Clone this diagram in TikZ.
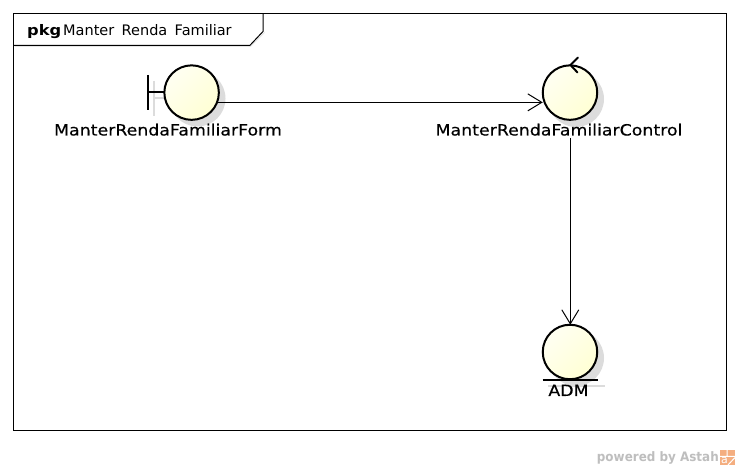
\documentclass[tikz,border=0pt]{standalone}
\usepackage{fontspec}
\setmainfont{DejaVu Sans}
\newfontfamily\labelfont[FakeStretch=1.12,FakeBold=0.4]{DejaVu Sans}
\newfontfamily\titlefont[WordSpace=1.6]{DejaVu Sans}
\newfontfamily\pkgfont[FakeStretch=1.12]{DejaVu Sans Bold}
\newfontfamily\wmfont[FakeStretch=0.92]{DejaVu Sans Bold}
\usetikzlibrary{arrows.meta}
\definecolor{shadowc}{HTML}{DCDCDC}
\definecolor{tabshadow}{HTML}{E6E6E6}
\definecolor{fillc}{HTML}{FFFFD4}
\definecolor{fillb}{HTML}{FFFFF2}
\definecolor{wm}{HTML}{BEBEBE}
\definecolor{logoc}{HTML}{F4AE80}
\tikzset{
  x=1pt,y=-1pt,
  robust/.style={circle,draw=black,line width=2pt,minimum size=54.5pt,inner sep=0pt,outer sep=0pt,left color=fillb,right color=fillc,shading angle=45},
  shadowdisc/.style={circle,fill=shadowc,minimum size=56pt,inner sep=0pt},
  label text/.style={font=\fontsize{15.5}{17}\labelfont,text=black,inner sep=0pt,anchor=base},
  thick bar/.style={line width=2pt,draw=black},
  shadow bar/.style={line width=2pt,draw=shadowc},
  flow/.style={draw=black,line width=1pt,-{Straight Barb[length=14pt,width=17pt,line width=1pt]}},
  frameline/.style={draw=black,line width=1pt},
}
\begin{document}
\begin{tikzpicture}
\useasboundingbox (0,0) rectangle (740,470);
\fill[white] (0,0) rectangle (740,470);
% frame
\draw[frameline] (13.5,13.5) rectangle (726,430.5);
\draw[tabshadow,line width=1pt] (14.5,46.5) -- (250.5,46.5) -- (264.5,32.5);
\draw[frameline] (13.5,45.3) -- (250,45.3) -- (263,31.5) -- (263,13.5);
\node[anchor=base west,inner sep=0pt,font=\fontsize{14.5}{16}\pkgfont] (pkg) at (27,36) {pkg};
\node[anchor=base west,inner sep=0pt,font=\fontsize{14.5}{16}\titlefont] (title) at (63,36) {Manter Renda Familiar};
% shadows
\node[shadowdisc] (s1) at (197.5,98.5) {};
\node[shadowdisc] (s2) at (576,99) {};
\node[shadowdisc] (s3) at (576,358) {};
\draw[shadow bar] (154,81) -- (154,116);
\draw[shadow bar] (154,98.5) -- (170,98.5);
\draw[shadow bar] (548,386) -- (605,386);
% boundary
\draw[thick bar] (148,75) -- (148,110);
\draw[thick bar] (148,92.5) -- (165,92.5);
\node[robust] (form) at (191.6,92.6) {};
\node[label text] (formlabel) at (168,135.5) {ManterRendaFamiliarForm};
% control
\node[robust] (ctrl) at (570,92.6) {};
\draw[thick bar,line cap=round] (578,57.5) -- (570.5,65) -- (577.5,72.5);
\node[label text] (ctrllabel) at (559,135.5) {ManterRendaFamiliarControl};
% entity
\node[robust] (adm) at (570,352) {};
\draw[thick bar] (542.5,380) -- (598,380);
\node[label text] (admlabel) at (568.5,396) {ADM};
% connectors
\draw[flow] (form.-21) -- (form.-21 -| ctrl.west);
\coordinate (ctrlout) at (570.3,138);
\draw[flow] (ctrlout) -- (ctrlout |- adm.north);
% watermark
\node[anchor=base east,inner sep=0pt,text=wm,font=\fontsize{13}{15}\wmfont] (wmk) at (719,462) {powered by Astah};
\fill[logoc] (720,450) rectangle (735,465);
\draw[white,line width=1pt] (727,450) -- (727,456) (720,456.5) -- (735,456.5) (728,465) -- (735,457.5);
\node[inner sep=0pt,text=white,font=\fontsize{11}{12}\selectfont] (logoa) at (724.5,460) {a};
\end{tikzpicture}
\end{document}
